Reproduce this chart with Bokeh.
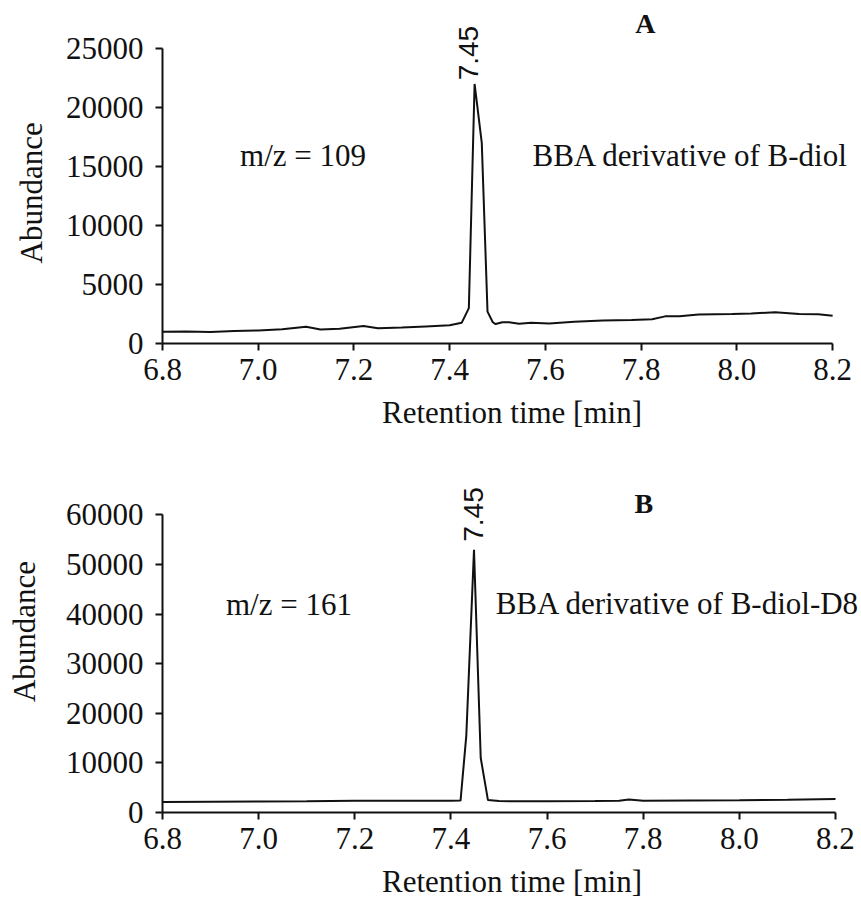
from bokeh.plotting import figure
from bokeh.models import Range1d, Label, FixedTicker, Title
from bokeh.layouts import column
from bokeh.embed import file_html
from bokeh.resources import INLINE

# ---------------- data ----------------
time_a = [6.80, 6.85, 6.90, 6.95, 7.00, 7.05, 7.10, 7.13, 7.17, 7.22, 7.25, 7.30,
          7.35, 7.40, 7.425, 7.440, 7.452, 7.467, 7.479, 7.490, 7.496, 7.510,
          7.524, 7.545, 7.570, 7.608, 7.660, 7.720, 7.780, 7.823, 7.850, 7.880,
          7.920, 7.990, 8.030, 8.080, 8.130, 8.170, 8.200]
abund_a = [1000, 1020, 980, 1050, 1100, 1200, 1420, 1180, 1250, 1480, 1300, 1350,
           1450, 1550, 1750, 3000, 22000, 17000, 2700, 1800, 1650, 1800,
           1800, 1670, 1750, 1700, 1850, 1950, 2000, 2050, 2300, 2300,
           2450, 2500, 2550, 2650, 2500, 2480, 2350]

time_b = [6.80, 6.90, 7.00, 7.10, 7.20, 7.30, 7.40, 7.420, 7.432, 7.448, 7.462,
          7.477, 7.50, 7.60, 7.70, 7.75, 7.77, 7.80, 7.90, 8.00, 8.10, 8.20]
abund_b = [2100, 2150, 2200, 2250, 2350, 2350, 2380, 2400, 15500, 53000, 11000,
           2500, 2300, 2250, 2300, 2350, 2600, 2350, 2400, 2450, 2550, 2700]

x_ticks = [6.8, 7.0, 7.2, 7.4, 7.6, 7.8, 8.0, 8.2]
x_tick_labels = ["6.8", "7.0", "7.2", "7.4", "7.6", "7.8", "8.0", "8.2"]
y_ticks_a = [0, 5000, 10000, 15000, 20000, 25000]
y_ticks_b = [0, 10000, 20000, 30000, 40000, 50000, 60000]

panel_a = {"tag": "A", "mz": "m/z = 109", "name": "BBA derivative of B-diol", "peak": "7.45"}
panel_b = {"tag": "B", "mz": "m/z = 161", "name": "BBA derivative of B-diol-D8", "peak": "7.45"}

SERIF = "Liberation Serif"
SANS = "Liberation Sans"
INK = "#111111"
FS = "31px"


def make_panel(t, y, yticks, yaxis_max, view, info, height, borders, pos, ylabel_offset=None):
    # the frame reaches the canvas top/right so in-plot texts are not clipped;
    # the axes themselves are bounded to the data extent
    p = figure(width=861, height=height, output_backend="svg", toolbar_location=None,
               x_range=Range1d(6.8, view[0]), y_range=Range1d(0, view[1]),
               min_border_left=borders[0], min_border_right=0,
               min_border_top=0, min_border_bottom=borders[1])
    p.outline_line_color = None
    p.grid.visible = False
    p.background_fill_color = "white"
    p.border_fill_color = "white"

    p.line(t, y, line_color=INK, line_width=2)

    p.xaxis.ticker = FixedTicker(ticks=x_ticks)
    p.xaxis.major_label_overrides = {tk: lb for tk, lb in zip(x_ticks, x_tick_labels)}
    p.xaxis.bounds = (x_ticks[0], x_ticks[-1])
    p.yaxis.ticker = FixedTicker(ticks=yticks)
    p.yaxis.bounds = (0, yaxis_max)
    p.xaxis.axis_label = "Retention time [min]"
    for ax in (p.xaxis[0], p.yaxis[0]):
        ax.axis_line_color = INK
        ax.axis_line_width = 2
        ax.major_tick_line_color = INK
        ax.major_tick_line_width = 2
        ax.major_tick_out = 7
        ax.major_tick_in = 0
        ax.minor_tick_line_color = None
        ax.major_label_text_font = SERIF
        ax.major_label_text_font_size = FS
        ax.major_label_text_color = INK
        ax.axis_label_text_font = SERIF
        ax.axis_label_text_font_size = FS
        ax.axis_label_text_font_style = "normal"
        ax.axis_label_text_color = INK
    p.xaxis.major_label_standoff = 8
    p.xaxis.axis_label_standoff = 12
    p.yaxis.major_label_standoff = 12

    if ylabel_offset is None:
        p.yaxis.axis_label = "Abundance"
        p.yaxis.axis_label_standoff = 21
    else:
        # y label placed along the bounded axis rather than the frame centre
        p.add_layout(Title(text="Abundance", align="left", offset=ylabel_offset,
                           vertical_align="top", standoff=24, text_font=SERIF,
                           text_font_size=FS, text_font_style="normal",
                           text_color=INK), "left")

    # annotations
    p.add_layout(Label(x=pos["mz"][0], y=pos["mz"][1], text=info["mz"], text_font=SERIF,
                       text_font_size=FS, text_color=INK, text_baseline="middle",
                       text_align="left"))
    p.add_layout(Label(x=pos["name"][0], y=pos["name"][1], text=info["name"], text_font=SERIF,
                       text_font_size=FS, text_color=INK, text_baseline="middle",
                       text_align="left"))
    p.add_layout(Label(x=pos["tag"][0], y=pos["tag"][1], text=info["tag"], text_font=SERIF,
                       text_font_size="28px", text_font_style="bold", text_color=INK,
                       text_baseline="middle", text_align="center"))
    p.add_layout(Label(x=pos["peak"][0], y=pos["peak"][1], text=info["peak"], text_font=SANS,
                       text_font_size="28px", text_color=INK, angle=90, angle_units="deg",
                       text_baseline="middle", text_align="left"))
    return p


pA = make_panel(time_a, abund_a, y_ticks_a, 25000, (8.2603, 29068), panel_a, 450, (159, 107),
                {"mz": (6.962, 15930), "name": (7.573, 15930),
                 "tag": (7.809, 27090), "peak": (7.439, 22300)}, ylabel_offset=80)
pB = make_panel(time_b, abund_b, y_ticks_b, 60000, (8.2541, 73008), panel_b, 452, (162, 90),
                {"mz": (6.932, 41850), "name": (7.493, 42190),
                 "tag": (7.8015, 62360), "peak": (7.4465, 54600)})

layout = column(pA, pB, spacing=0)

html = file_html(layout, INLINE, title="Chromatograms")
html = html.replace("<head>", "<head><style>html,body{margin:0;padding:0;}</style>", 1)
open("out.html", "w").write(html)
